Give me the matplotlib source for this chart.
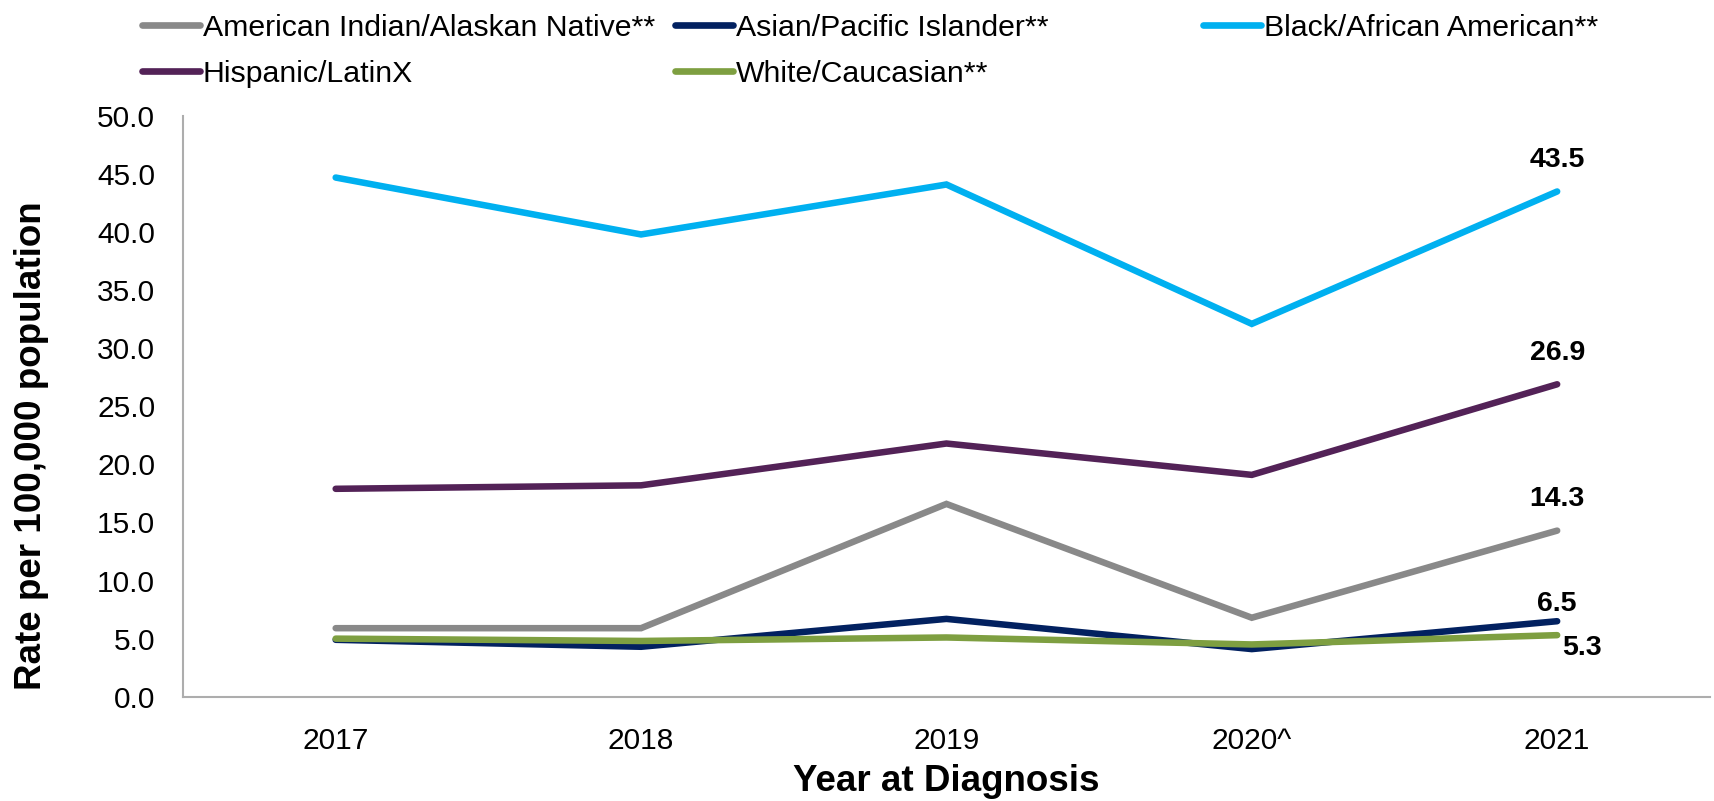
import matplotlib.pyplot as plt
from matplotlib.lines import Line2D

plt.rcParams['font.family'] = ['Liberation Sans', 'DejaVu Sans']

# Rates per 100,000 population by year of diagnosis
years = ['2017', '2018', '2019', '2020^', '2021']
aian = [5.9, 5.9, 16.6, 6.8, 14.3]
asian = [4.9, 4.3, 6.7, 4.1, 6.5]
black = [44.7, 39.8, 44.1, 32.1, 43.5]
hispanic = [17.9, 18.2, 21.8, 19.1, 26.9]
white = [5.0, 4.8, 5.1, 4.5, 5.3]

names = ['American Indian/Alaskan Native**', 'Asian/Pacific Islander**',
         'Black/African American**', 'Hispanic/LatinX', 'White/Caucasian**']
colors = ['#898989', '#022160', '#00B0F0', '#532257', '#7E9F41']
series = [aian, asian, black, hispanic, white]

# label offsets (points) for the 2021 values
label_offsets = [(0, 22.7), (0, 12.7), (0, 22.7), (0, 22.7), (18, -9.5)]

fig = plt.figure(figsize=(17.15, 8.01), dpi=100)
ax = fig.add_axes([0.1067, 0.1302, 0.8903, 0.7250])

x = range(len(years))
for vals, name, c, off in zip(series, names, colors, label_offsets):
    ax.plot(x, vals, color=c, lw=4.7, solid_capstyle='round',
            solid_joinstyle='miter', label=name)
    ax.annotate(f'{vals[-1]:.1f}', (x[-1], vals[-1]), xytext=off,
                textcoords='offset points', ha='center', va='center',
                fontsize=20.5, fontweight='bold')

ax.set_xlim(-0.5, len(years) - 0.5)
ax.set_ylim(0, 50)
ax.set_yticks([i * 5 for i in range(11)])
ax.set_yticklabels([f'{i * 5:.1f}' for i in range(11)])
ax.set_xticks(list(x))
ax.set_xticklabels(years)
ax.tick_params(axis='both', length=0, labelsize=21.5)
ax.tick_params(axis='x', pad=22)
ax.tick_params(axis='y', pad=20)

for s in ['top', 'right']:
    ax.spines[s].set_visible(False)
for s in ['left', 'bottom']:
    ax.spines[s].set_color('#ADADAD')
    ax.spines[s].set_linewidth(1.5)

ax.set_xlabel('Year at Diagnosis', fontsize=26.5, fontweight='bold')
ax.xaxis.set_label_coords(0.5, -0.1464)
ax.xaxis.label.set_va('center')
ax.set_ylabel('Rate per 100,000 population', fontsize=26.5, fontweight='bold')
ax.yaxis.set_label_coords(-0.0995, 0.432)
ax.yaxis.label.set_va('center')

# legend: three fixed-width columns, filled row by row
cols = [[0, 3], [1, 4], [2]]
col_x = [142 / 1715, 675 / 1715, 1203 / 1715]
for idx, cx in zip(cols, col_x):
    hs = [Line2D([], [], color=colors[i], lw=4.8, solid_capstyle='round') for i in idx]
    fig.legend(hs, [names[i] for i in idx], loc='upper left',
               bbox_to_anchor=(cx, 1 - 13.5 / 801), frameon=False,
               fontsize=21.8, handlelength=1.9, handletextpad=0.1,
               borderpad=0, borderaxespad=0, labelspacing=0.6)

fig.savefig('out.png', dpi=100)
